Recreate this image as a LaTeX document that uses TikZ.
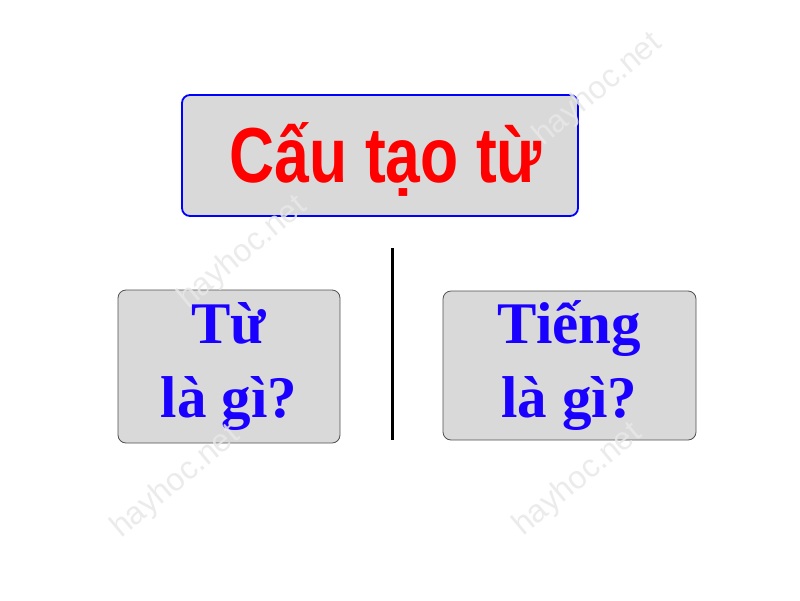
\documentclass[tikz,border=0pt]{standalone}
\usepackage{fontspec}
\usepackage{graphicx}
\setmainfont{Liberation Serif}
\newfontfamily\headfont{Liberation Sans}
\newfontfamily\wmfont{Liberation Sans}
\definecolor{boxgray}{RGB}{217,217,217}
\definecolor{qblue}{RGB}{26,0,255}
\definecolor{hblue}{RGB}{0,0,255}
\definecolor{hred}{RGB}{255,0,0}
\definecolor{edgegray}{RGB}{80,80,80}
\definecolor{wmgray}{RGB}{232,232,232}
\tikzset{
  headbox/.style={draw=hblue, line width=1.8pt, fill=boxgray, rounded corners=8pt,
    minimum width=396pt, minimum height=121pt, inner sep=0pt},
  headtext/.style={inner sep=0pt, text=hred},
  qbox/.style={draw=edgegray, line width=0.8pt, fill=boxgray, rounded corners=8pt,
    inner sep=0pt, align=center, text=qblue,
    font=\fontsize{59}{74}\selectfont\bfseries},
  wmark/.style={text=wmgray, opacity=0.85, font=\wmfont\fontsize{32}{32}\selectfont, rotate=40},
  divider/.style={line width=3pt, black}
}
\begin{document}
\begin{tikzpicture}[x=1pt,y=-1pt]
\useasboundingbox (0,0) rectangle (800,600);
\fill[white] (0,0) rectangle (800,600);
\node[headbox] (head) at (380,155.5) {};
\node[headtext] (headtxt) at ([xshift=6pt,yshift=-4pt]head.center)
  {\scalebox{0.8}[1]{\headfont\bfseries\fontsize{78}{90}\selectfont Cấu tạo từ}};
\node[qbox, minimum width=222pt, minimum height=153pt] (tu) at (229,366.5) {Từ\\là gì?};
\node[qbox, minimum width=253pt, minimum height=149pt] (tieng) at (569.5,365.5) {Tiếng\\là gì?};
\coordinate (dtop) at (392,248);
\coordinate (dbot) at (392,440);
\draw[divider] (dtop) -- (dbot);
\node[wmark] (w1) at (598,90) {hayhoc.net};
\node[wmark] (w2) at (243,253) {hayhoc.net};
\node[wmark] (w3) at (176,482) {hayhoc.net};
\node[wmark] (w4) at (578,480) {hayhoc.net};
\end{tikzpicture}
\end{document}
